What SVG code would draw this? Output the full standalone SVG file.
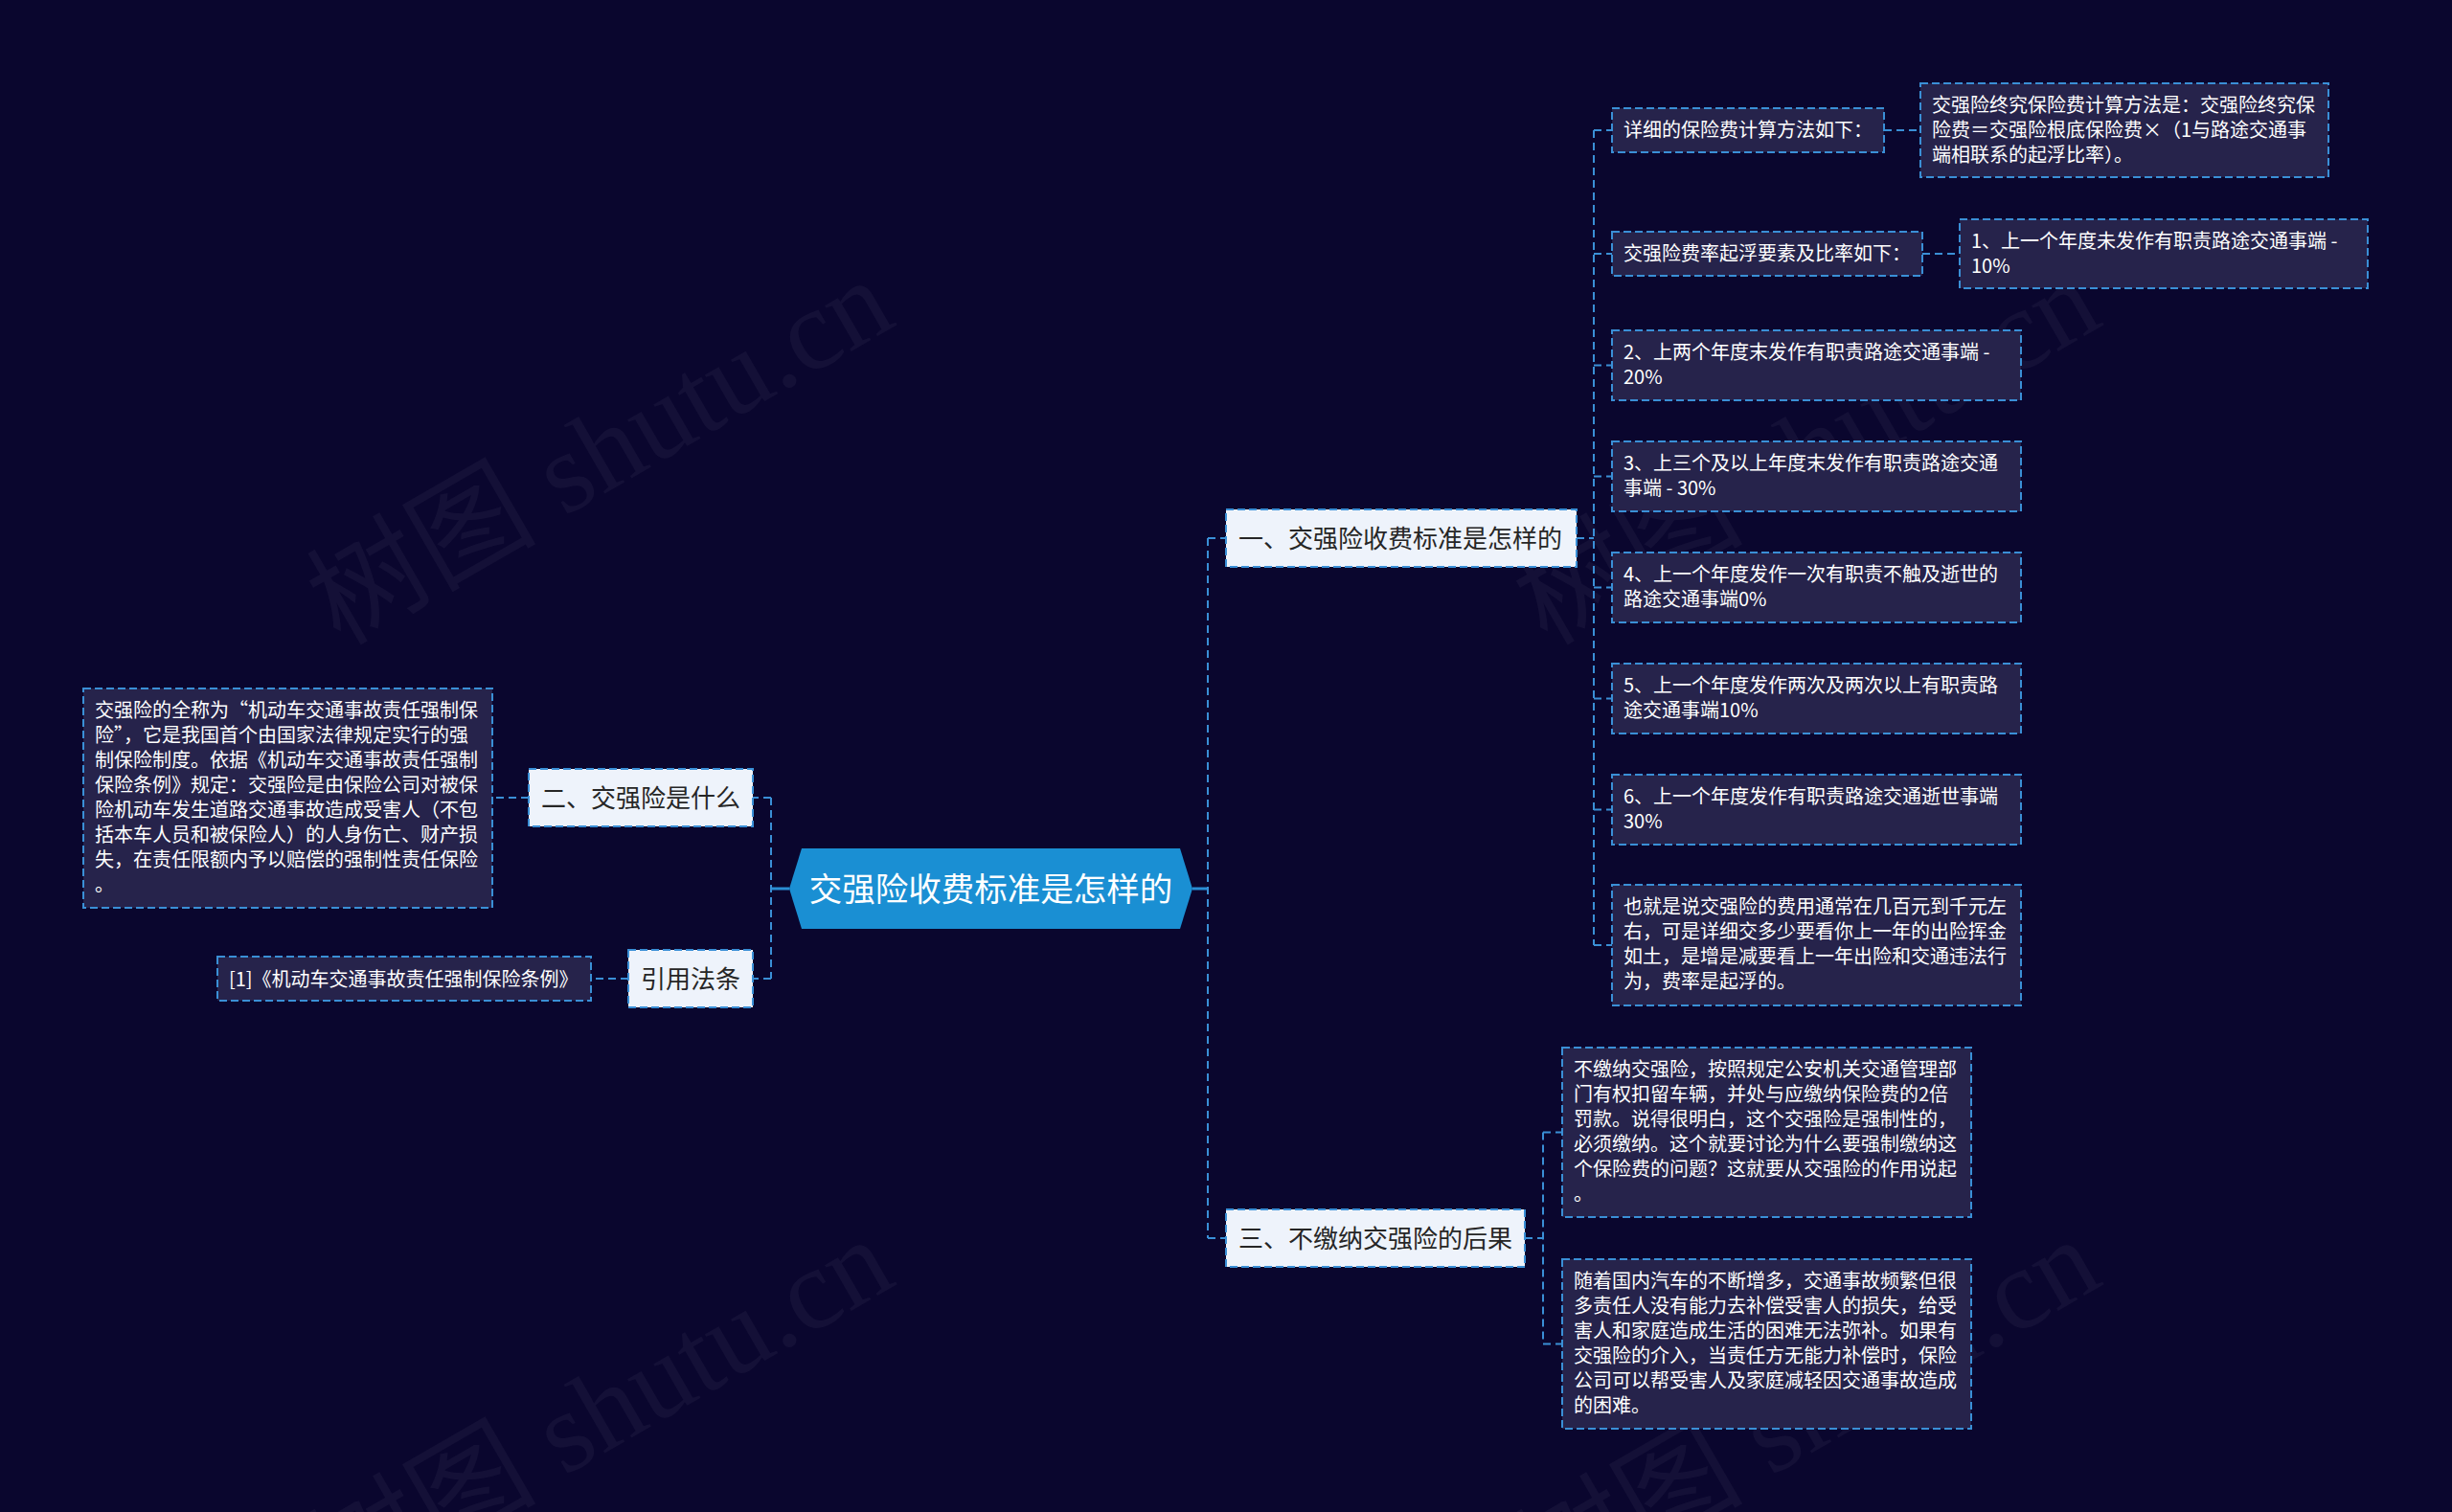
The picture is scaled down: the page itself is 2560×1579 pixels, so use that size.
<svg xmlns="http://www.w3.org/2000/svg" width="2560" height="1579" viewBox="0 0 2560 1579">
<style>
.wm{font-family:"Liberation Serif","Noto Sans CJK SC",serif;font-size:120px;fill:#ffffff;fill-opacity:0.045}
.leaf rect{fill:#26234b;stroke:#3a8fd6;stroke-width:2;stroke-dasharray:8 4}
.branch rect{fill:#eef3fb;stroke:#3a8fd6;stroke-width:2;stroke-dasharray:8 4}
.leaf text{font-family:"Noto Sans CJK SC","Noto Sans",sans-serif;font-size:20px;fill:#ffffff}
.branch text{font-family:"Noto Sans CJK SC","Noto Sans",sans-serif;font-size:26px;fill:#262626}
.conn path{fill:none;stroke:#3a8fd6;stroke-width:2;stroke-dasharray:8 5}
.conn path.solid{stroke-dasharray:none;stroke-width:3;stroke:#2a8ed4}
</style>
<rect width="2560" height="1579" fill="#0a062e"/>
<g id="watermarks">
<text class="wm" x="355" y="675" transform="rotate(-30 355 675)">树图 shutu.cn</text>
<text class="wm" x="1615" y="675" transform="rotate(-30 1615 675)">树图 shutu.cn</text>
<text class="wm" x="355" y="1677" transform="rotate(-30 355 1677)">树图 shutu.cn</text>
<text class="wm" x="1615" y="1677" transform="rotate(-30 1615 1677)">树图 shutu.cn</text>
</g>
<g id="connectors" class="conn">
<path class="solid" d="M824,928 H805"/>
<path class="solid" d="M1245,928 H1261"/>
<path d="M1261,562 V1293"/>
<path d="M1261,562 H1280"/>
<path d="M1261,1293 H1280"/>
<path d="M805,833 V1022"/>
<path d="M805,833 H786"/>
<path d="M805,1022 H786"/>
<path d="M552,833 H514"/>
<path d="M656,1022 H617"/>
<path d="M1646,562 H1664"/>
<path d="M1664,136 V987"/>
<path d="M1664,136 H1683"/>
<path d="M1664,265 H1683"/>
<path d="M1664,381.5 H1683"/>
<path d="M1664,497.5 H1683"/>
<path d="M1664,613.5 H1683"/>
<path d="M1664,729.5 H1683"/>
<path d="M1664,845.5 H1683"/>
<path d="M1664,987 H1683"/>
<path d="M1967,136 H2005"/>
<path d="M2007,265 H2046"/>
<path d="M1592,1293 H1611"/>
<path d="M1611,1182.5 V1403.5"/>
<path d="M1611,1182.5 H1631"/>
<path d="M1611,1403.5 H1631"/>
</g>
<g id="root">
<polygon points="837,886 1232,886 1245,928 1232,970 837,970 824,928" fill="#1a8fd3"/>
<text x="1034.5" y="941" text-anchor="middle" font-family="Noto Sans CJK SC, Noto Sans, sans-serif" font-size="34.5" fill="#ffffff">交强险收费标准是怎样的</text>
</g>
<g id="branch1" class="branch">
<rect x="1280" y="532" width="366" height="60"/>
<text x="1293" y="571.5">一、交强险收费标准是怎样的</text>
</g>
<g id="branch2" class="branch">
<rect x="552" y="803" width="234" height="60"/>
<text x="565" y="842.5">二、交强险是什么</text>
</g>
<g id="branch-ref" class="branch">
<rect x="656" y="992" width="130" height="60"/>
<text x="669" y="1031.5">引用法条</text>
</g>
<g id="branch3" class="branch">
<rect x="1280" y="1263" width="312" height="60"/>
<text x="1293" y="1302.5">三、不缴纳交强险的后果</text>
</g>
<g id="leaf-detail" class="leaf">
<rect x="1683" y="113" width="284" height="46"/>
<text x="1695" y="143">详细的保险费计算方法如下：</text>
</g>
<g id="leaf-formula" class="leaf">
<rect x="2005" y="87" width="426" height="98"/>
<text x="2017" y="117">交强险终究保险费计算方法是：交强险终究保</text>
<text x="2017" y="143">险费＝交强险根底保险费×（1与路途交通事</text>
<text x="2017" y="169">端相联系的起浮比率）。</text>
</g>
<g id="leaf-rate" class="leaf">
<rect x="1683" y="242" width="324" height="46"/>
<text x="1695" y="272">交强险费率起浮要素及比率如下：</text>
</g>
<g id="leaf-item1" class="leaf">
<rect x="2046" y="229" width="426" height="72"/>
<text x="2058" y="259">1、上一个年度未发作有职责路途交通事端 -</text>
<text x="2058" y="285">10%</text>
</g>
<g id="leaf-item2" class="leaf">
<rect x="1683" y="345" width="427" height="73"/>
<text x="1695" y="375">2、上两个年度末发作有职责路途交通事端 -</text>
<text x="1695" y="401">20%</text>
</g>
<g id="leaf-item3" class="leaf">
<rect x="1683" y="461" width="427" height="73"/>
<text x="1695" y="491">3、上三个及以上年度末发作有职责路途交通</text>
<text x="1695" y="517">事端 - 30%</text>
</g>
<g id="leaf-item4" class="leaf">
<rect x="1683" y="577" width="427" height="73"/>
<text x="1695" y="607">4、上一个年度发作一次有职责不触及逝世的</text>
<text x="1695" y="633">路途交通事端0%</text>
</g>
<g id="leaf-item5" class="leaf">
<rect x="1683" y="693" width="427" height="73"/>
<text x="1695" y="723">5、上一个年度发作两次及两次以上有职责路</text>
<text x="1695" y="749">途交通事端10%</text>
</g>
<g id="leaf-item6" class="leaf">
<rect x="1683" y="809" width="427" height="73"/>
<text x="1695" y="839">6、上一个年度发作有职责路途交通逝世事端</text>
<text x="1695" y="865">30%</text>
</g>
<g id="leaf-summary" class="leaf">
<rect x="1683" y="924" width="427" height="126"/>
<text x="1695" y="954">也就是说交强险的费用通常在几百元到千元左</text>
<text x="1695" y="980">右，可是详细交多少要看你上一年的出险挥金</text>
<text x="1695" y="1006">如土，是增是减要看上一年出险和交通违法行</text>
<text x="1695" y="1032">为，费率是起浮的。</text>
</g>
<g id="leaf-what" class="leaf">
<rect x="87" y="719" width="427" height="229"/>
<text x="99" y="749">交强险的全称为“机动车交通事故责任强制保</text>
<text x="99" y="775">险”，它是我国首个由国家法律规定实行的强</text>
<text x="99" y="801">制保险制度。依据《机动车交通事故责任强制</text>
<text x="99" y="827">保险条例》规定：交强险是由保险公司对被保</text>
<text x="99" y="853">险机动车发生道路交通事故造成受害人（不包</text>
<text x="99" y="879">括本车人员和被保险人）的人身伤亡、财产损</text>
<text x="99" y="905">失，在责任限额内予以赔偿的强制性责任保险</text>
<text x="99" y="931">。</text>
</g>
<g id="leaf-law" class="leaf">
<rect x="227" y="999" width="390" height="46"/>
<text x="239" y="1029.5">[1]《机动车交通事故责任强制保险条例》</text>
</g>
<g id="leaf-fine" class="leaf">
<rect x="1631" y="1094" width="427" height="177"/>
<text x="1643" y="1124">不缴纳交强险，按照规定公安机关交通管理部</text>
<text x="1643" y="1150">门有权扣留车辆，并处与应缴纳保险费的2倍</text>
<text x="1643" y="1176">罚款。说得很明白，这个交强险是强制性的，</text>
<text x="1643" y="1202">必须缴纳。这个就要讨论为什么要强制缴纳这</text>
<text x="1643" y="1228">个保险费的问题？这就要从交强险的作用说起</text>
<text x="1643" y="1254">。</text>
</g>
<g id="leaf-help" class="leaf">
<rect x="1631" y="1315" width="427" height="177"/>
<text x="1643" y="1345">随着国内汽车的不断增多，交通事故频繁但很</text>
<text x="1643" y="1371">多责任人没有能力去补偿受害人的损失，给受</text>
<text x="1643" y="1397">害人和家庭造成生活的困难无法弥补。如果有</text>
<text x="1643" y="1423">交强险的介入，当责任方无能力补偿时，保险</text>
<text x="1643" y="1449">公司可以帮受害人及家庭减轻因交通事故造成</text>
<text x="1643" y="1475">的困难。</text>
</g>
</svg>
